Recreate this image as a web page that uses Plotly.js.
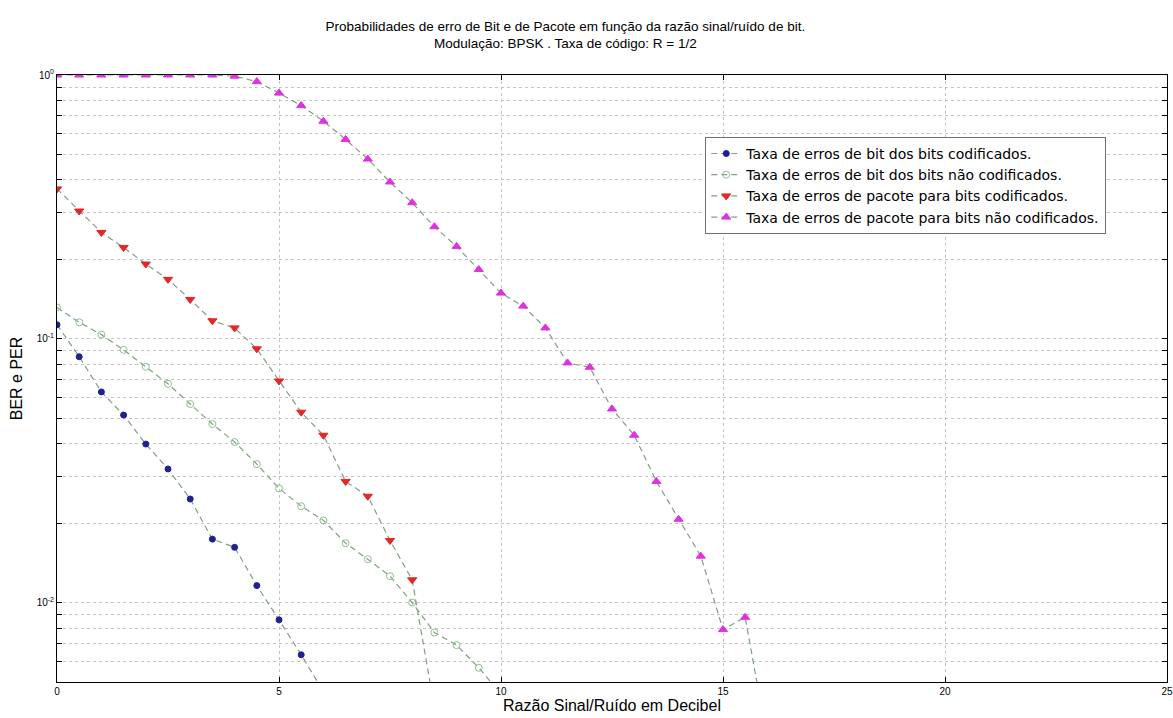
<!DOCTYPE html>
<html>
<head>
<meta charset="utf-8">
<script src="https://cdn.plot.ly/plotly-3.0.1.min.js"></script>
<style>
  html, body { margin: 0; padding: 0; background: #ffffff; }
  #chart { width: 1173px; height: 718px; }
</style>
</head>
<body>
<div id="chart"></div>
<script>
// Eb/N0 em dB
var snrDb = [0, 0.5, 1, 1.5, 2, 2.5, 3, 3.5, 4, 4.5, 5, 5.5, 6, 6.5, 7, 7.5, 8, 8.5, 9, 9.5, 10,
             10.5, 11, 11.5, 12, 12.5, 13, 13.5, 14, 14.5, 15, 15.5, 16];

// BER dos bits codificados
var berCoded = [0.113, 0.0855, 0.0629, 0.0514, 0.0399, 0.0321, 0.0247, 0.0174, 0.0162, 0.0116,
                0.0086, 0.00634, 0.0046];
// BER dos bits não codificados
var berUncoded = [0.1315, 0.1155, 0.1037, 0.0908, 0.0783, 0.0675, 0.0566, 0.0475, 0.0406, 0.0335,
                  0.0271, 0.0232, 0.0205, 0.0168, 0.0146, 0.0126, 0.0100, 0.0077, 0.0069, 0.00566,
                  0.0045];
// PER para bits codificados
var perCoded = [0.37, 0.305, 0.253, 0.222, 0.192, 0.168, 0.141, 0.117, 0.110, 0.0916,
                0.0692, 0.0527, 0.0431, 0.0288, 0.0253, 0.0172, 0.0122, 0.004];
// PER para bits não codificados
var perUncoded = [1, 1, 1, 1, 1, 1, 1, 1, 0.99, 0.944,
                  0.854, 0.766, 0.668, 0.57, 0.48, 0.393, 0.328, 0.266, 0.224, 0.183,
                  0.149, 0.133, 0.110, 0.081, 0.078, 0.0542, 0.0431, 0.0288, 0.0207, 0.0150,
                  0.0079, 0.0088, 0.003];

var seriesNames = [
  'Taxa de erros de bit dos bits codificados.',
  'Taxa de erros de bit dos bits não codificados.',
  'Taxa de erros de pacote para bits codificados.',
  'Taxa de erros de pacote para bits não codificados.'
];

// Marcas do eixo y (décadas com rótulo, subdivisões sem rótulo)
var yTickVals = [0.005, 0.006, 0.007, 0.008, 0.009,
                 0.01, 0.02, 0.03, 0.04, 0.05, 0.06, 0.07, 0.08, 0.09,
                 0.1, 0.2, 0.3, 0.4, 0.5, 0.6, 0.7, 0.8, 0.9, 1];
var yTickText = ['', '', '', '', '',
                 '10<sup>-2</sup>', '', '', '', '', '', '', '', '',
                 '10<sup>-1</sup>', '', '', '', '', '', '', '', '', '10<sup>0</sup>'];
var xTickVals = [0, 5, 10, 15, 20, 25];

var lineColor = 'rgb(128,158,128)';
var fontFamily = 'Liberation Sans, Arial, sans-serif';

function curve(values, name, symbol, fill, edge, size) {
  return {
    x: snrDb.slice(0, values.length),
    y: values,
    name: name,
    type: 'scatter',
    mode: 'lines+markers',
    line: { color: lineColor, width: 1.2, dash: '6px,4px' },
    marker: { symbol: symbol, size: size, color: fill, line: { color: edge, width: 1 } }
  };
}

var data = [
  curve(berCoded, seriesNames[0], 'circle', '#1f1f96', '#1f1f96', 6),
  curve(berUncoded, seriesNames[1], 'circle-open', '#8fbf8f', '#8fbf8f', 7),
  curve(perCoded, seriesNames[2], 'triangle-down', '#e32626', '#e32626', 8),
  curve(perUncoded, seriesNames[3], 'triangle-up', '#e030e0', '#e030e0', 8)
];

var axisCommon = {
  showline: true,
  linecolor: '#000000',
  linewidth: 1,
  mirror: 'ticks',
  ticks: 'inside',
  ticklen: 5,
  tickcolor: '#000000',
  showgrid: true,
  gridcolor: '#c4c4c4',
  griddash: 'dot',
  gridwidth: 1,
  zeroline: false,
  tickfont: { family: fontFamily, size: 10, color: '#000000' }
};

var layout = {
  width: 1173,
  height: 718,
  margin: { l: 57, r: 6, t: 75, b: 36 },
  paper_bgcolor: '#ffffff',
  plot_bgcolor: '#ffffff',
  font: { family: fontFamily, color: '#000000' },
  title: {
    text: 'Probabilidades de erro de Bit e de Pacote em função da razão sinal/ruído de bit.<br>Modulação: BPSK . Taxa de código: R = 1/2',
    font: { family: fontFamily, size: 13.5, color: '#000000' },
    x: 0.458,
    xanchor: 'center',
    xref: 'paper',
    y: 0.957,
    yanchor: 'middle'
  },
  xaxis: Object.assign({}, axisCommon, {
    range: [0, 25],
    tickmode: 'array',
    tickvals: xTickVals,
    ticktext: xTickVals.map(String),
    title: { text: 'Razão Sinal/Ruído em Decibel', font: { family: fontFamily, size: 16, color: '#000000' }, standoff: 0 }
  }),
  yaxis: Object.assign({}, axisCommon, {
    type: 'log',
    range: [Math.log10(0.005), 0],
    tickmode: 'array',
    tickvals: yTickVals,
    ticktext: yTickText,
    title: { text: 'BER e PER', font: { family: fontFamily, size: 16, color: '#000000' }, standoff: 10 }
  }),
  legend: {
    x: 0.584,
    y: 0.898,
    xanchor: 'left',
    yanchor: 'top',
    bgcolor: '#ffffff',
    bordercolor: '#707070',
    borderwidth: 1,
    font: { family: 'DejaVu Sans, sans-serif', size: 14, color: '#000000' },
    tracegroupgap: 0,
    itemwidth: 30
  },
  showlegend: true
};

Plotly.newPlot('chart', data, layout, { displayModeBar: false, staticPlot: true });
</script>
</body>
</html>
